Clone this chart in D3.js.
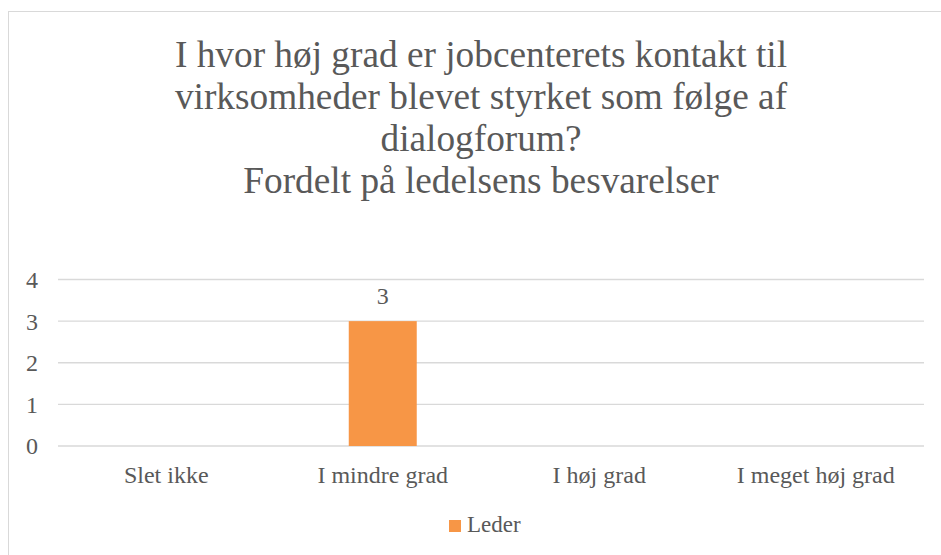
<!DOCTYPE html>
<html>
<head>
<meta charset="utf-8">
<script src="https://cdn.jsdelivr.net/npm/d3@7"></script>
<style>
  html, body { margin: 0; padding: 0; background: #fff; }
  svg { display: block; }
  text { font-family: "Liberation Serif", "Times New Roman", serif; fill: #595959; }
</style>
</head>
<body>
<svg id="chart" width="941" height="555"></svg>
<script>
const titleLines = [
  "I hvor høj grad er jobcenterets kontakt til",
  "virksomheder blevet styrket som følge af",
  "dialogforum?",
  "Fordelt på ledelsens besvarelser"
];
const categories = ["Slet ikke", "I mindre grad", "I høj grad", "I meget høj grad"];
const seriesName = "Leder";
const values = [null, 3, null, null];
const yTicks = [0, 1, 2, 3, 4];

const svg = d3.select("#chart");
const W = 941, H = 555;
const margin = { left: 58, right: 17, top: 279.5, bottom: 109 };
const plotW = W - margin.left - margin.right;
const plotH = H - margin.top - margin.bottom;

// outer border
svg.append("rect")
  .attr("x", 8.5).attr("y", 11.5)
  .attr("width", 940).attr("height", 560)
  .attr("fill", "none").attr("stroke", "#d9d9d9").attr("stroke-width", 1);

// title
const title = svg.append("text")
  .attr("text-anchor", "middle")
  .style("font-size", "37.3px");
titleLines.forEach((t, i) => {
  title.append("tspan").attr("x", 481).attr("y", 66.7 + i * 42.1).text(t);
});

const g = svg.append("g").attr("transform", `translate(${margin.left},${margin.top})`);

const x = d3.scaleBand().domain(categories).range([0, plotW]).paddingInner(0).paddingOuter(0);
const y = d3.scaleLinear().domain([0, 4]).range([plotH, 0]);

// gridlines
g.selectAll("line.grid").data(yTicks).join("line")
  .attr("class", "grid")
  .attr("x1", 0).attr("x2", plotW)
  .attr("y1", d => y(d)).attr("y2", d => y(d))
  .attr("stroke", "#d9d9d9").attr("stroke-width", 1.3);

// y axis labels
const yAxis = d3.axisLeft(y).tickValues(yTicks).tickFormat(d3.format("d")).tickSize(0).tickPadding(20);
const ya = g.append("g").call(yAxis);
ya.select(".domain").remove();
ya.selectAll("text").style("font-size", "24px").attr("fill", "#595959")
  .attr("dy", "0.33em");

// x axis labels
const xAxis = d3.axisBottom(x).tickSize(0).tickPadding(0);
const xa = g.append("g").attr("transform", `translate(0,${plotH})`).call(xAxis);
xa.select(".domain").remove();
xa.selectAll("text").style("font-size", "24px").attr("fill", "#595959")
  .attr("dy", null).attr("y", 37);

// bars
const barW = x.bandwidth() * 0.314;
const barData = categories.map((c, i) => ({ c, v: values[i] })).filter(d => d.v != null);
g.selectAll("rect.bar").data(barData).join("rect")
  .attr("class", "bar")
  .attr("x", d => x(d.c) + x.bandwidth() / 2 - barW / 2)
  .attr("width", barW)
  .attr("y", d => y(d.v))
  .attr("height", d => y(0) - y(d.v))
  .attr("fill", "#f79646");

// value labels
g.selectAll("text.val").data(barData).join("text")
  .attr("class", "val")
  .attr("text-anchor", "middle")
  .attr("x", d => x(d.c) + x.bandwidth() / 2)
  .attr("y", d => y(d.v) - 17)
  .style("font-size", "24px")
  .text(d => d.v);

// legend
const lg = svg.append("g").attr("transform", "translate(449,520)");
lg.append("rect").attr("width", 12).attr("height", 12).attr("fill", "#f79646");
lg.append("text").attr("x", 18).attr("y", 12).style("font-size", "23px").text(seriesName);
</script>
</body>
</html>
